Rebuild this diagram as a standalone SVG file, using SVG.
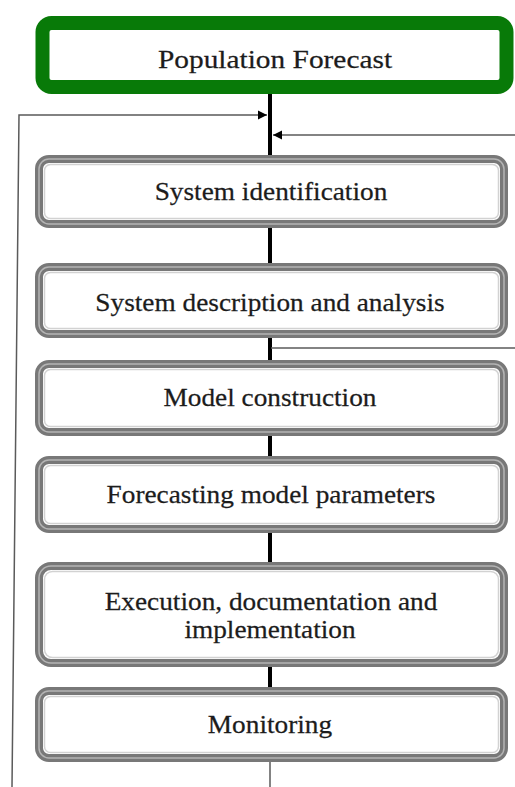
<svg xmlns="http://www.w3.org/2000/svg" width="515" height="787" viewBox="0 0 515 787">
  <defs>
    <style>
      .lbl { font-family: "Liberation Serif", "Times New Roman", serif; font-size: 26px; fill: #1c1c1c; stroke: #1c1c1c; stroke-width: 0.25; text-anchor: middle; }
      .outer { fill: #ffffff; stroke: #787878; stroke-width: 8; }
      .mid { fill: none; stroke: #b4b4b4; stroke-width: 1.5; }
      .inner { fill: none; stroke: #d2d2d2; stroke-width: 1.5; }
      .thick { stroke: #000000; stroke-width: 4; fill: none; }
      .thin { stroke: #5a5a5a; stroke-width: 1.5; fill: none; }
    </style>
    <marker id="ah" viewBox="0 0 10 10" refX="10" refY="5" markerWidth="9" markerHeight="10" markerUnits="userSpaceOnUse" orient="auto">
      <path d="M0,0 L10,5 L0,10 Z" fill="#000"/>
    </marker>
  </defs>
  <rect width="515" height="787" fill="#ffffff"/>

  <g id="connectors">
    <line class="thick" x1="270" y1="94" x2="270" y2="156"/>
    <line class="thick" x1="270" y1="227" x2="270" y2="264"/>
    <line class="thick" x1="270" y1="337" x2="270" y2="361"/>
    <line class="thick" x1="270" y1="435" x2="270" y2="457"/>
    <line class="thick" x1="270" y1="532" x2="270" y2="563"/>
    <line class="thick" x1="270" y1="666" x2="270" y2="688"/>
    <line class="thin" x1="270" y1="762" x2="270" y2="787"/>
    <polyline class="thin" points="12,787 19,115 267,115" marker-end="url(#ah)"/>
    <line class="thin" x1="515" y1="135" x2="273" y2="135" marker-end="url(#ah)"/>
    <line class="thin" x1="271" y1="348" x2="515" y2="348"/>
  </g>

  <g id="population-forecast">
    <rect x="42.5" y="23" width="464" height="64" rx="9" fill="#ffffff" stroke="#087a08" stroke-width="14"/>
    <text class="lbl" transform="translate(275,68) scale(1.13,1)" font-size="28">Population Forecast</text>
  </g>

  <g id="system-identification">
    <rect class="outer" x="39" y="159" width="465" height="65" rx="10"/>
    <rect class="mid" x="39" y="159" width="465" height="65" rx="10"/>
    <rect class="inner" x="44.5" y="164.5" width="454" height="54" rx="6"/>
    <text class="lbl" transform="translate(271,200) scale(1.05,1)">System identification</text>
  </g>

  <g id="system-description">
    <rect class="outer" x="39" y="267" width="465" height="67" rx="10"/>
    <rect class="mid" x="39" y="267" width="465" height="67" rx="10"/>
    <rect class="inner" x="44.5" y="272.5" width="454" height="56" rx="6"/>
    <text class="lbl" transform="translate(270,311) scale(1.05,1)">System description and analysis</text>
  </g>

  <g id="model-construction">
    <rect class="outer" x="39" y="364" width="465" height="68" rx="10"/>
    <rect class="mid" x="39" y="364" width="465" height="68" rx="10"/>
    <rect class="inner" x="44.5" y="369.5" width="454" height="57" rx="6"/>
    <text class="lbl" transform="translate(270,406) scale(1.05,1)">Model construction</text>
  </g>

  <g id="forecasting-parameters">
    <rect class="outer" x="39" y="460" width="465" height="69" rx="10"/>
    <rect class="mid" x="39" y="460" width="465" height="69" rx="10"/>
    <rect class="inner" x="44.5" y="465.5" width="454" height="58" rx="6"/>
    <text class="lbl" transform="translate(271,503) scale(1.05,1)">Forecasting model parameters</text>
  </g>

  <g id="execution">
    <rect class="outer" x="39" y="566" width="465" height="97" rx="12"/>
    <rect class="mid" x="39" y="566" width="465" height="97" rx="12"/>
    <rect class="inner" x="44.5" y="571.5" width="454" height="86" rx="8"/>
    <text class="lbl" transform="translate(271,610) scale(1.05,1)">Execution, documentation and</text>
    <text class="lbl" transform="translate(270,638) scale(1.05,1)">implementation</text>
  </g>

  <g id="monitoring">
    <rect class="outer" x="39" y="691" width="465" height="67" rx="10"/>
    <rect class="mid" x="39" y="691" width="465" height="67" rx="10"/>
    <rect class="inner" x="44.5" y="696.5" width="454" height="56" rx="6"/>
    <text class="lbl" transform="translate(270,733) scale(1.05,1)">Monitoring</text>
  </g>
</svg>
